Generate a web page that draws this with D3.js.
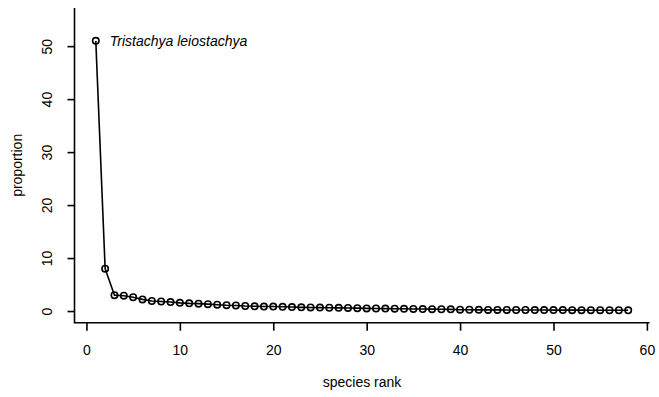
<!DOCTYPE html>
<html>
<head>
<meta charset="utf-8">
<script src="https://cdn.jsdelivr.net/npm/d3@7"></script>
<style>
  body { margin: 0; background: #fff; }
  svg { display: block; font-family: "Liberation Sans", Arial, Helvetica, sans-serif; }
</style>
</head>
<body>
<svg id="chart" width="659" height="397"></svg>
<script>
const ranks = d3.range(1, 59);
const proportions = [
  51.0, 8.0, 3.0, 2.9, 2.6, 2.2, 1.9, 1.8, 1.7, 1.55,
  1.45, 1.4, 1.3, 1.2, 1.1, 1.05, 0.95, 0.9, 0.85, 0.85,
  0.8, 0.75, 0.7, 0.68, 0.65, 0.62, 0.6, 0.58, 0.55, 0.5,
  0.48, 0.46, 0.44, 0.42, 0.4, 0.38, 0.36, 0.34, 0.32, 0.25,
  0.24, 0.23, 0.22, 0.22, 0.21, 0.2, 0.2, 0.19, 0.19, 0.18,
  0.18, 0.17, 0.17, 0.16, 0.16, 0.15, 0.15, 0.14
];
const xTicks = [0, 10, 20, 30, 40, 50, 60];
const yTicks = [0, 10, 20, 30, 40, 50];
const xLabel = "species rank";
const yLabel = "proportion";
const annotation = "Tristachya leiostachya";

const svg = d3.select("#chart");
const mLeft = 74.5, mRight = 649.5, mTop = 8, mBottom = 322.7;
const FONT = "Liberation Sans, Arial, Helvetica, sans-serif";

const x = d3.scaleLinear().domain([-1.28, 60.28]).range([mLeft, mRight]);
const y = d3.scaleLinear().domain([-2.2, 57.2]).range([mBottom, mTop]);

// axes box (L shape)
svg.append("path")
  .attr("d", `M${mLeft},${mTop}V${mBottom}H${mRight}`)
  .attr("fill", "none").attr("stroke", "#000").attr("stroke-width", 1.6);

// x axis
const xAxis = d3.axisBottom(x).tickValues(xTicks).tickSize(8).tickPadding(12).tickFormat(d3.format("d"));
const gx = svg.append("g").attr("transform", `translate(0,${mBottom})`).call(xAxis);
gx.select(".domain").remove();
gx.selectAll(".tick line").attr("stroke", "#000").attr("stroke-width", 1.6);
gx.selectAll(".tick text").attr("font-size", 14).attr("fill", "#000")
  .attr("font-family", FONT).attr("y", 22).attr("dy", "0.71em");

// y axis
const yAxis = d3.axisLeft(y).tickValues(yTicks).tickSize(7).tickPadding(0).tickFormat(d3.format("d"));
const gy = svg.append("g").attr("transform", `translate(${mLeft},0)`).call(yAxis);
gy.select(".domain").remove();
gy.selectAll(".tick line").attr("stroke", "#000").attr("stroke-width", 1.6);
gy.selectAll(".tick text")
  .attr("font-size", 14).attr("fill", "#000")
  .attr("font-family", FONT)
  .attr("x", null)
  .attr("text-anchor", "middle")
  .attr("transform", "translate(-27,0) rotate(-90)")
  .attr("dy", "0.35em");

// axis titles
svg.append("text").attr("x", (mLeft + mRight) / 2).attr("y", 387)
  .attr("text-anchor", "middle").attr("font-size", 14).attr("font-family", FONT).text(xLabel);
svg.append("text").attr("transform", `translate(22,${(mTop + mBottom) / 2}) rotate(-90)`)
  .attr("text-anchor", "middle").attr("font-size", 14).attr("font-family", FONT).text(yLabel);

const data = ranks.map((r, i) => ({ r, v: proportions[i] }));

// line
svg.append("path").datum(data)
  .attr("d", d3.line().x(d => x(d.r)).y(d => y(d.v)))
  .attr("fill", "none").attr("stroke", "#000").attr("stroke-width", 1.6);

// points
svg.append("g").selectAll("circle").data(data).join("circle")
  .attr("cx", d => x(d.r)).attr("cy", d => y(d.v)).attr("r", 3.2)
  .attr("fill", "none").attr("stroke", "#000").attr("stroke-width", 1.6);

// annotation
svg.append("text").attr("x", x(1) + 14).attr("y", y(proportions[0]) + 5)
  .attr("font-size", 14).attr("font-style", "italic").attr("font-family", FONT).text(annotation);
</script>
</body>
</html>
